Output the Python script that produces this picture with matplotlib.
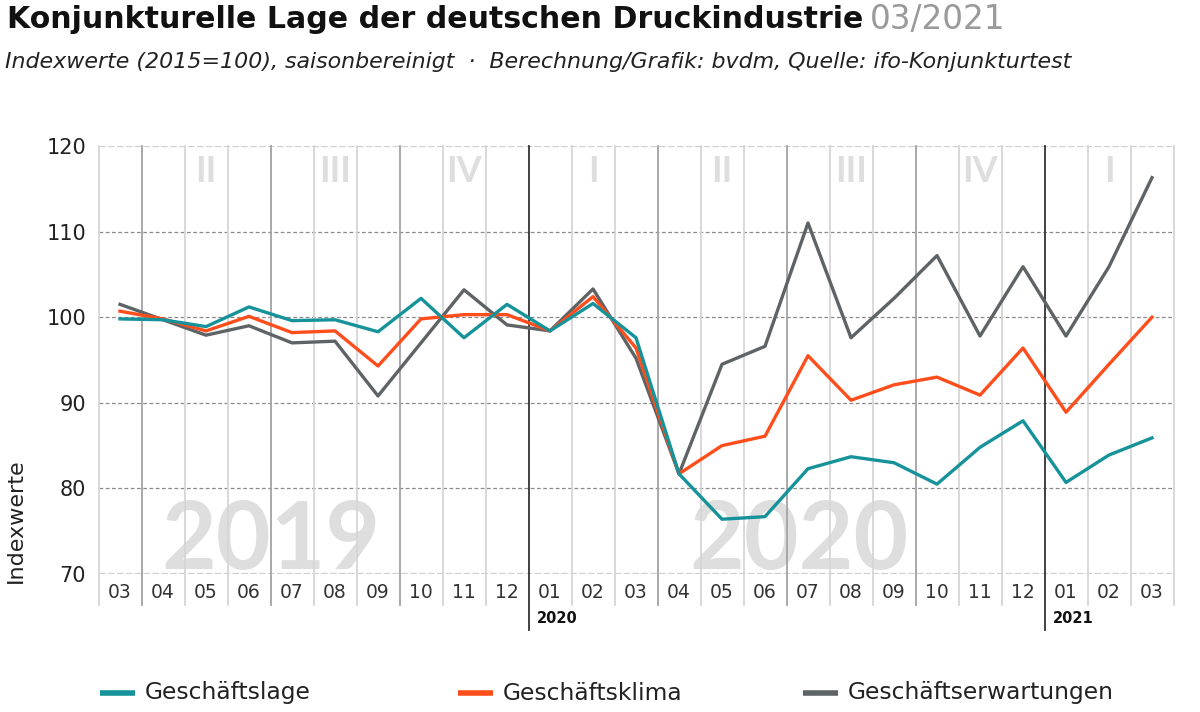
import matplotlib.pyplot as plt
from matplotlib.lines import Line2D
import matplotlib.transforms as mtransforms

# Monate 03/2019 bis 03/2021
months = ['03', '04', '05', '06', '07', '08', '09', '10', '11', '12',
          '01', '02', '03', '04', '05', '06', '07', '08', '09', '10', '11', '12',
          '01', '02', '03']

geschaeftslage = [99.8, 99.7, 98.9, 101.2, 99.6, 99.7, 98.3, 102.2, 97.6, 101.5,
                  98.4, 101.6, 97.6, 81.7, 76.4, 76.7, 82.3, 83.7, 83.0, 80.5, 84.8, 87.9,
                  80.7, 83.9, 85.9]
geschaeftsklima = [100.7, 99.8, 98.4, 100.1, 98.2, 98.4, 94.3, 99.8, 100.3, 100.3,
                   98.4, 102.4, 96.4, 81.7, 85.0, 86.1, 95.5, 90.3, 92.1, 93.0, 90.9, 96.4,
                   88.9, 94.5, 100.0]
geschaeftserwartungen = [101.5, 99.7, 97.9, 99.0, 97.0, 97.2, 90.8, 97.0, 103.2, 99.1,
                         98.4, 103.3, 95.2, 81.7, 94.5, 96.6, 111.0, 97.6, 102.2, 107.2, 97.8, 105.9,
                         97.8, 105.9, 116.3]

quarters = ['II', 'III', 'IV', 'I', 'II', 'III', 'IV', 'I']
quarter_pos = [2, 5, 8, 11, 14, 17, 20, 23]
years_bg = ['2019', '2020']
years_bg_pos = [3.5, 15.8]
year_labels = ['2020', '2021']
year_starts = [10, 22]

c_lage = '#16939a'
c_klima = '#ff4e1c'
c_erw = '#5e6366'

plt.rcParams['font.family'] = ['DejaVu Sans']
narrow = ['Lato', 'DejaVu Sans']

fig = plt.figure(figsize=(12, 7.12), dpi=100)
ax = fig.add_axes([98.5 / 1200, (712 - 574) / 712, 1075 / 1200, 428 / 712])
n = len(months)
ax.set_xlim(-0.5, n - 0.5)
ax.set_ylim(70, 120)
for s in ax.spines.values():
    s.set_visible(False)
ax.set_xticks([])
ax.set_yticks([70, 80, 90, 100, 110, 120])
ax.tick_params(axis='y', length=0, pad=9, labelsize=15, labelcolor='#222222')

trans = mtransforms.blended_transform_factory(ax.transData, ax.transAxes)

# horizontale Gitterlinien
for v in [80, 90, 100, 110]:
    ax.axhline(v, color='#8a8a8a', lw=0.9, dashes=(3, 2), zorder=1)
for v in [70, 120]:
    ax.axhline(v, color='#cfcfcf', lw=1.6, dashes=(3, 1), zorder=1)

# vertikale Linien an den Monatsgrenzen
for i in range(n + 1):
    x = i - 0.5
    m = months[i] if i < n else None
    if m == '01':
        ax.plot([x, x], [-0.13, 1], transform=trans, color='#333333', lw=1.3,
                clip_on=False, zorder=2)
    elif m in ('04', '07', '10'):
        ax.plot([x, x], [-0.072, 1], transform=trans, color='#a3a3a3', lw=1.3,
                clip_on=False, zorder=2)
    else:
        ax.plot([x, x], [-0.072, 1], transform=trans, color='#d6d6d6', lw=1.3,
                clip_on=False, zorder=2)

# Monatsbeschriftung
for i, m in enumerate(months):
    ax.text(i, -0.043, m, transform=trans, ha='center', va='center',
            fontsize=13.5, color='#333333')

for lab, x in zip(year_labels, year_starts):
    ax.text(x - 0.3, -0.105, lab, transform=trans, ha='left', va='center',
            fontsize=10.5, fontweight='bold', color='#111111')

# Quartale und Jahre im Hintergrund
for q, x in zip(quarters, quarter_pos):
    ax.text(x, 0.94, q, transform=trans, ha='center', va='center', family=narrow,
            fontsize=26, fontweight='bold', color='#dedede', zorder=0)
for y, x in zip(years_bg, years_bg_pos):
    ax.text(x, 70.6, y, ha='center', va='baseline', fontsize=68, family=narrow,
            fontweight='bold', color='#dedede', zorder=0)

xs = list(range(n))
ax.plot(xs, geschaeftserwartungen, color=c_erw, lw=2.4, zorder=3)
ax.plot(xs, geschaeftsklima, color=c_klima, lw=2.4, zorder=4)
ax.plot(xs, geschaeftslage, color=c_lage, lw=2.4, zorder=5)

fig.text(16 / 1200, 1 - 521 / 712, 'Indexwerte', rotation=90, ha='center',
         va='center', fontsize=16, color='#222222')

# Titel
t = fig.text(7 / 1200, 1 - 19 / 712, 'Konjunkturelle Lage der deutschen Druckindustrie',
             fontsize=21.6, fontweight='bold', color='#111111', va='center')
fig.canvas.draw()
bb = t.get_window_extent()
fig.text(bb.x1 / 1200 + 7 / 1200, 1 - 19 / 712, '03/2021', fontsize=23.5,
         color='#9a9a9a', va='center')
fig.text(5 / 1200, 1 - 62 / 712,
         'Indexwerte (2015=100), saisonbereinigt  \u00b7  Berechnung/Grafik: bvdm, Quelle: ifo-Konjunkturtest',
         fontsize=15.9, style='italic', color='#222222', va='center')

# Legende
legend = [('Geschäftslage', c_lage, 100), ('Geschäftsklima', c_klima, 458),
          ('Geschäftserwartungen', c_erw, 803)]
for name, col, x0 in legend:
    fig.add_artist(Line2D([x0 / 1200, (x0 + 35) / 1200], [1 - 693 / 712] * 2,
                          color=col, lw=4, solid_capstyle='butt'))
    fig.text((x0 + 45) / 1200, 1 - 693 / 712, name, fontsize=16.8,
             color='#222222', va='center')

fig.savefig('out.png', dpi=100)
